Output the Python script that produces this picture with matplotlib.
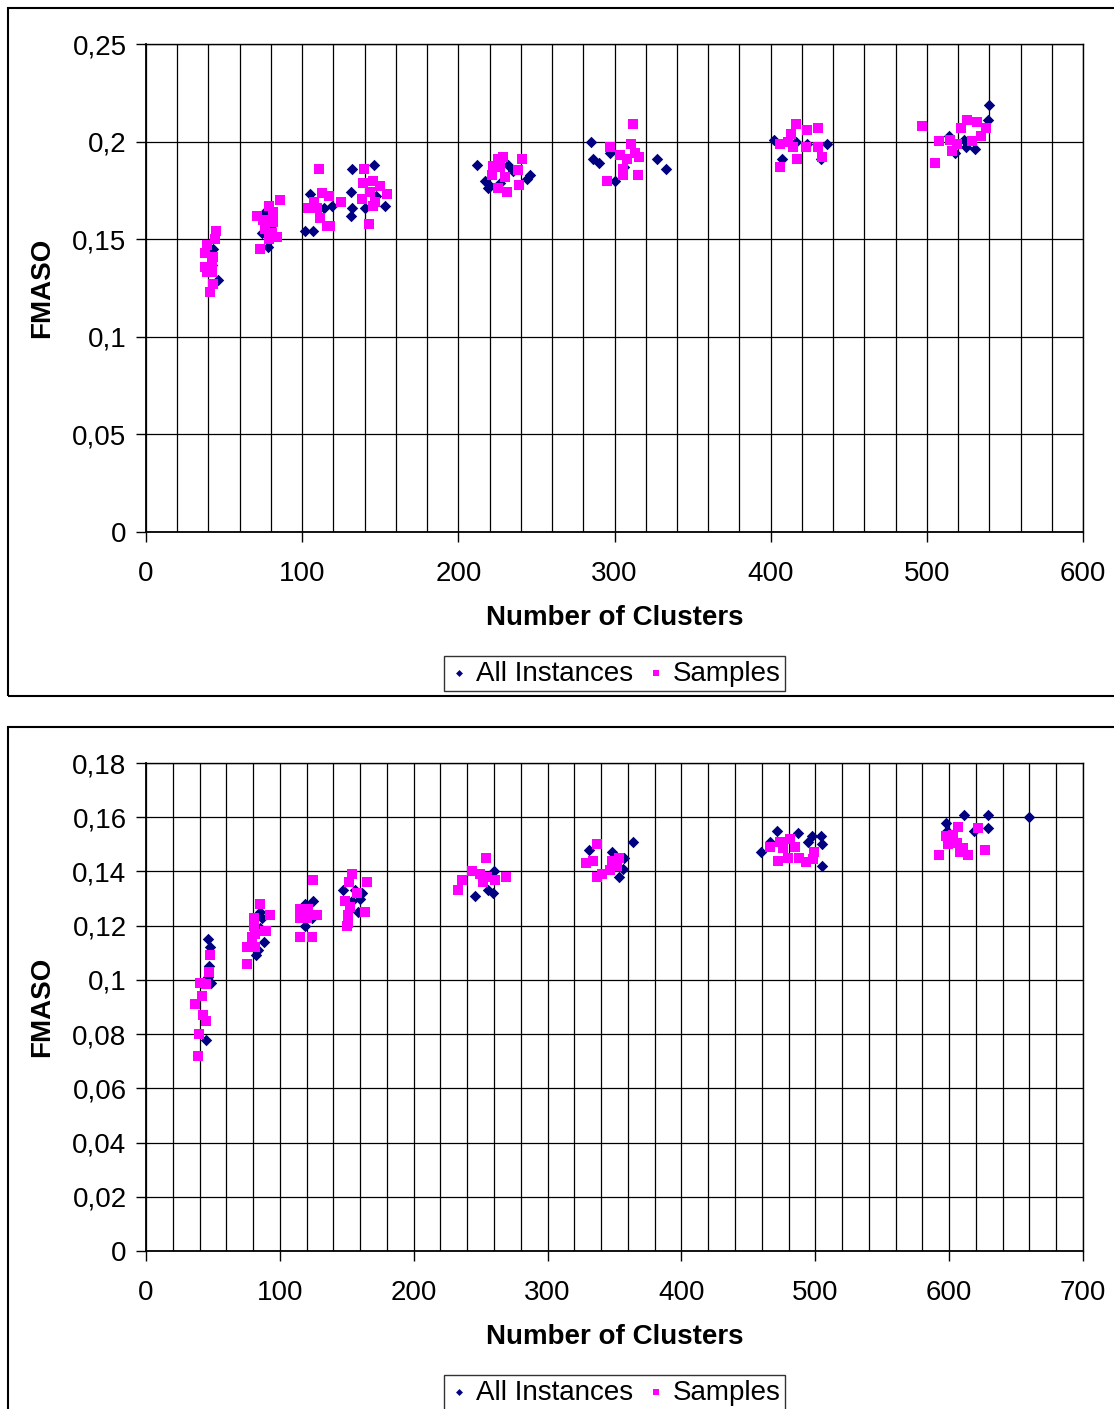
import matplotlib
matplotlib.use("Agg")
import matplotlib.pyplot as plt
from matplotlib.patches import Rectangle
from matplotlib.ticker import MultipleLocator, FixedLocator

plt.rcParams['font.family'] = ['Liberation Sans', 'DejaVu Sans']

# ---- top chart data ----
top_all_x = [43.1, 46.3, 42, 76, 74, 78, 80, 105, 119, 102, 107, 114,
             132, 146, 131, 132, 131, 140, 153, 147,
             212, 232, 235, 246, 244, 217, 220, 219, 227,
             285, 286.5, 290, 297, 306, 300, 327, 333,
             402, 416, 423, 436, 407, 432,
             540, 539, 514, 524, 525, 531, 518]
top_all_y = [0.145, 0.129, 0.137, 0.164, 0.153, 0.146, 0.157, 0.173, 0.167, 0.154, 0.154, 0.166,
             0.186, 0.188, 0.174, 0.166, 0.162, 0.166, 0.167, 0.172,
             0.188, 0.188, 0.185, 0.183, 0.181, 0.180, 0.177, 0.176, 0.179,
             0.200, 0.191, 0.189, 0.194, 0.187, 0.180, 0.191, 0.186,
             0.201, 0.200, 0.199, 0.199, 0.191, 0.191,
             0.219, 0.211, 0.203, 0.201, 0.197, 0.196, 0.194]
top_samp_x = [44.8, 44.2, 38.8, 37.8, 43.1, 42, 37.8, 38.8, 42, 43.1, 41,
              85.8, 79, 81.1, 71, 75, 81.5, 76, 80.5, 83.7, 79, 73,
              111, 112.5, 117.4, 107.6, 103.9, 109.3, 111.4, 115.7, 117.8, 124.9,
              139.8, 139.2, 145.6, 149.8, 154.1, 143.4, 138.1, 146.6, 145.6, 142.8,
              241, 228.8, 225.2, 222.4, 226.7, 238.4, 221.8, 229.9, 239, 225.6, 231,
              312, 297.1, 310.4, 303.5, 307.8, 313.1, 315.9, 305.6, 305.6, 314.8, 295,
              416, 413, 423, 430.5, 406, 411.3, 414.1, 422.6, 430.5, 432.6, 416.6, 406,
              497, 525.5, 532, 538, 522, 535, 508, 515, 519, 529, 516, 505]
top_samp_y = [0.154, 0.150, 0.147, 0.143, 0.141, 0.138, 0.136, 0.133, 0.133, 0.127, 0.123,
              0.170, 0.167, 0.164, 0.162, 0.160, 0.159, 0.155, 0.153, 0.151, 0.150, 0.145,
              0.186, 0.1735, 0.172, 0.169, 0.166, 0.166, 0.161, 0.157, 0.157, 0.169,
              0.186, 0.179, 0.180, 0.177, 0.173, 0.174, 0.1705, 0.169, 0.167, 0.158,
              0.191, 0.192, 0.191, 0.1875, 0.187, 0.1855, 0.183, 0.182, 0.178, 0.176, 0.174,
              0.209, 0.197, 0.199, 0.193, 0.191, 0.194, 0.192, 0.186, 0.183, 0.183, 0.180,
              0.209, 0.204, 0.206, 0.207, 0.199, 0.200, 0.197, 0.197, 0.197, 0.192, 0.191, 0.187,
              0.208, 0.211, 0.210, 0.207, 0.207, 0.203, 0.2005, 0.201, 0.199, 0.2005, 0.195, 0.189]
top_yticks = [0, 0.05, 0.1, 0.15, 0.2, 0.25]
top_ylabels = ["0", "0,05", "0,1", "0,15", "0,2", "0,25"]
top_xticks = [0, 100, 200, 300, 400, 500, 600]

# ---- bottom chart data ----
bot_all_x = [46.3, 47.8, 47.1, 48.3, 44.8, 46,
             88.2, 82.2, 85.2, 86.4, 85.2, 84,
             118.8, 125, 124.2, 118.8,
             147.4, 156.1, 161.1, 159.9, 158.6, 154.1,
             260, 255.7, 259, 245.8,
             331.2, 347.9, 364, 357.1, 356.1, 353.1,
             471.1, 459.7, 466.2, 487.3, 497.3, 504.3, 505.2, 494.8, 505.2,
             597.4, 611.1, 628.8, 628.8, 618.5, 659.4, 598.1]
bot_all_y = [0.115, 0.112, 0.105, 0.099, 0.078, 0.101,
             0.114, 0.109, 0.125, 0.123, 0.119, 0.111,
             0.128, 0.129, 0.123, 0.120,
             0.133, 0.133, 0.132, 0.130, 0.125, 0.129,
             0.140, 0.133, 0.132, 0.131,
             0.148, 0.147, 0.151, 0.145, 0.141, 0.138,
             0.155, 0.147, 0.151, 0.154, 0.153, 0.153, 0.150, 0.151, 0.142,
             0.158, 0.161, 0.161, 0.156, 0.155, 0.160, 0.155]
bot_samp_x = [47.8, 47.1, 40.3, 44.8, 41.6, 36.6, 42.3, 44.8, 39.8, 39.1,
              85.2, 92.6, 80.9, 80.9, 88.9, 81.4, 79, 89.6, 75.2, 81.4, 75.2,
              125, 115, 121.3, 127.5, 115, 120, 115, 123.8,
              153.6, 151.6, 164.9, 157.4, 148.7, 152.4, 163.6, 151.1, 151.1, 149.9,
              253.8, 243.3, 249.5, 254.5, 261, 268.9, 235.8, 232.8, 251.9,
              336.7, 328.7, 334.2, 340.4, 336.7, 347.9, 353.6, 346.6, 351.6,
              466.2, 473.6, 481.1, 476.1, 484.8, 471.9, 479.8, 488, 493, 499, 498.5,
              606.8, 621.8, 597.6, 603.1, 599.4, 605.6, 610.5, 608, 613.8, 592.6, 626.8]
bot_samp_y = [0.109, 0.103, 0.099, 0.0985, 0.094, 0.091, 0.087, 0.085, 0.080, 0.072,
              0.128, 0.124, 0.123, 0.120, 0.118, 0.117, 0.116, 0.118, 0.112, 0.112, 0.106,
              0.137, 0.126, 0.126, 0.124, 0.123, 0.123, 0.116, 0.116,
              0.139, 0.136, 0.136, 0.132, 0.129, 0.127, 0.125, 0.124, 0.121, 0.120,
              0.145, 0.140, 0.139, 0.138, 0.137, 0.138, 0.137, 0.133, 0.136,
              0.150, 0.143, 0.144, 0.139, 0.138, 0.144, 0.145, 0.1405, 0.142,
              0.149, 0.151, 0.152, 0.1485, 0.149, 0.144, 0.145, 0.145, 0.1436, 0.147, 0.1445,
              0.1565, 0.156, 0.153, 0.1534, 0.150, 0.1506, 0.1485, 0.147, 0.146, 0.146, 0.148]
bot_yticks = [0, 0.02, 0.04, 0.06, 0.08, 0.1, 0.12, 0.14, 0.16, 0.18]
bot_ylabels = ["0", "0,02", "0,04", "0,06", "0,08", "0,1", "0,12", "0,14", "0,16", "0,18"]
bot_xticks = [0, 100, 200, 300, 400, 500, 600, 700]

W, H = 1114, 1409
fig = plt.figure(figsize=(W / 100, H / 100), dpi=100)

# outer chart frames
fig.patches.append(Rectangle((8 / W, 1 - 696 / H), 1.2, 688 / H, transform=fig.transFigure,
                             fill=False, edgecolor='black', lw=1.5))
fig.patches.append(Rectangle((8 / W, -0.1), 1.2, (1409 - 727) / H + 0.1, transform=fig.transFigure,
                             fill=False, edgecolor='black', lw=1.5))


def draw(ax, ax_x, ax_y, samp_x, samp_y, xticks, yticks, ylabels):
    ax.scatter(ax_x, ax_y, marker='D', s=34, color='#000080', linewidths=0,
               label='All Instances', zorder=3)
    ax.scatter(samp_x, samp_y, marker='s', s=44, color='#FF00FF', linewidths=0,
               label='Samples', zorder=4)
    ax.set_xlim(xticks[0], xticks[-1])
    ax.set_ylim(yticks[0], yticks[-1])
    ax.xaxis.set_major_locator(FixedLocator(xticks))
    ax.xaxis.set_minor_locator(MultipleLocator(20))
    ax.set_yticks(yticks)
    ax.set_yticklabels(ylabels)
    ax.grid(True, which='both', axis='x', color='black', lw=0.9)
    ax.grid(True, which='major', axis='y', color='black', lw=0.9)
    ax.set_axisbelow(True)
    ax.tick_params(axis='both', which='major', direction='out', length=7, width=1,
                   labelsize=20, color='black')
    ax.tick_params(axis='x', which='major', pad=14)
    ax.tick_params(axis='y', which='major', pad=7)
    ax.tick_params(which='minor', length=0)
    for sp in ax.spines.values():
        sp.set_color('black')
        sp.set_linewidth(1)
    ax.spines['left'].set_linewidth(1.3)
    ax.spines['bottom'].set_linewidth(1.3)
    ax.set_xlabel('Number of Clusters', fontsize=20, fontweight='bold')
    ax.xaxis.set_label_coords(0.5, -0.176)
    ax.set_ylabel('FMASO', fontsize=20, fontweight='bold')
    ax.yaxis.set_label_coords(-0.111, 0.5)
    ax.xaxis.label.set_va('center')
    ax.yaxis.label.set_va('center')
    leg = ax.legend(loc='center', bbox_to_anchor=(0.5, -0.29), ncol=2, fontsize=20,
                    frameon=True, fancybox=False, edgecolor='black', handletextpad=0.2,
                    columnspacing=0.45, borderpad=0.15, handlelength=0.8, markerscale=0.6,
                    borderaxespad=0)
    leg.get_frame().set_linewidth(1)


ax1 = fig.add_axes([146 / W, 1 - 532 / H, 937 / W, 488 / H])
draw(ax1, top_all_x, top_all_y, top_samp_x, top_samp_y, top_xticks, top_yticks, top_ylabels)

ax2 = fig.add_axes([146 / W, 1 - 1251 / H, 937 / W, 488 / H])
draw(ax2, bot_all_x, bot_all_y, bot_samp_x, bot_samp_y, bot_xticks, bot_yticks, bot_ylabels)

fig.savefig('out.png', dpi=100)
